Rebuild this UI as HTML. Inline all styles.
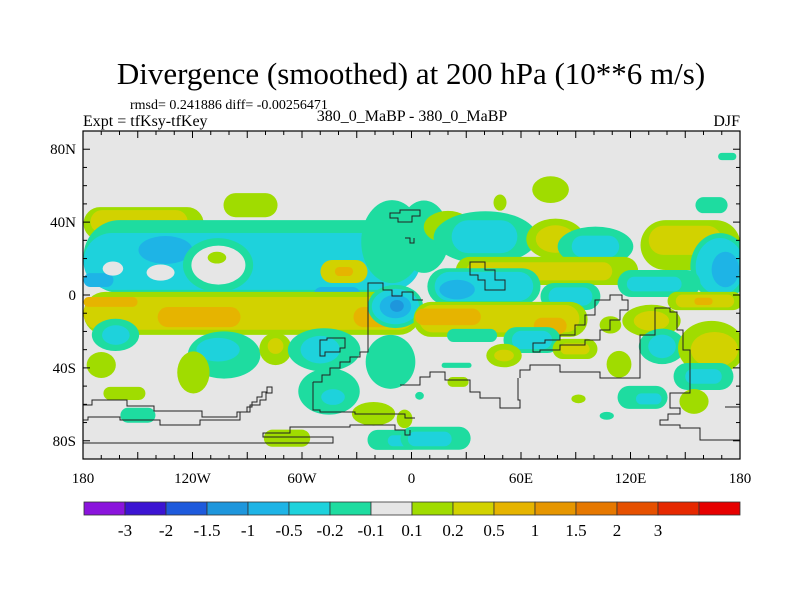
<!DOCTYPE html>
<html><head><meta charset="utf-8"><style>
body{margin:0;background:#fff;}
svg{display:block;font-family:"Liberation Serif",serif;}
</style></head><body>
<svg id="chart" width="800" height="600" viewBox="0 0 800 600">
<rect width="800" height="600" fill="#fff"/>
<text x="411" y="84" font-size="31" text-anchor="middle">Divergence (smoothed) at 200 hPa (10**6 m/s)</text>
<text x="130" y="109" font-size="14">rmsd= 0.241886 diff= -0.00256471</text>
<text x="83" y="126" font-size="16">Expt = tfKsy-tfKey</text>
<text x="412" y="121" font-size="16" text-anchor="middle">380_0_MaBP - 380_0_MaBP</text>
<text x="740" y="126" font-size="16" text-anchor="end">DJF</text>
<defs><clipPath id="pc"><rect x="83" y="131" width="657" height="328"/></clipPath></defs>
<rect x="83" y="131" width="657" height="328" fill="#e6e6e6"/>
<g id="field" clip-path="url(#pc)"></g>
<g clip-path="url(#pc)" fill="none" stroke="#222" stroke-width="1">
<path d="M83,405 H92 V400 H127 V406 H154 V411 H202 V417 H237 V412 H247 V407 H252 V402 H257 V397 H262 V392 H267 V387 H272 V393 H266 V400 H260 V405 H250 V412 H240 V420 H200 V425 H160 V420 H120 V417 H88 V420 H83"/>
<path d="M83,443 H333 V437 H263 V433 H290 V427 H350 V425 H395 V430 H405 V435 H410 V430"/>
<path d="M313,382 V410 H320 V412 H355 V414 H405 V418 H415"/>
<path d="M313,382 H322 V375 H330 V368 H340 V362 H350 V357 H360 V352 H368 V283 H383 V290 H392 V296 H402 V292 H413 V300 H423"/>
<path d="M320,340 H327 V338 H345 V348 H340 V352 H325 V356 H320 Z"/>
<path d="M390,213 V218 H398 V222 H412 V216 H420 V210 H400 V213 Z"/>
<path d="M405,238 H410 V243 H414 V238"/>
<path d="M470,262 V275 H478 V280 H485 V290 H505 V280 H495 V270 H485 V262 Z"/>
<path d="M533,343 H545 V340 H560 V335 H575 V325 H585 V315 H595 V300 H610 V295 H622 V300 H628 V310 H620 V320 H610 V330 H600 V340 H585 V345 H560 V350 H540 V352 H533 Z"/>
<path d="M520,378 V370 H530 V365 H560 V372 H600 V378 H640 V335 H655 V308 H670 V312 H677 V330 H683 V350 H690 V393 H670 V408 H680 V414 H668 V420 H660 V425 H680 V428 H700 V440 H740"/>
<path d="M400,385 H420 V377 H430 V372 H445 V380 H470 V392 H480 V398 H500 V408 H520 V400 H518 V378"/>
<path d="M725,407 H740"/>
</g>
<g id="axes"></g>
<rect x="83" y="131" width="657" height="328" fill="none" stroke="#000" stroke-width="1.2"/>
<g id="cbar"></g>
</svg>
<script>
const levelBounds = [-3,-2,-1.5,-1,-0.5,-0.2,-0.1,0.1,0.2,0.5,1,1.5,2,3];
const levelLabels = ["-3","-2","-1.5","-1","-0.5","-0.2","-0.1","0.1","0.2","0.5","1","1.5","2","3"];
const paletteColors = ["#8a14dc","#3c14d2","#1e5adc","#1e96dc","#1eb4e6","#1ed2dc","#1edca0","#e6e6e6","#a0dc00","#d2d200","#e6b400","#e69600","#e67800","#e65000","#e62800","#e60000"];
const lonTicks = [-180,-120,-60,0,60,120,180];
const lonTickLabels = ["180","120W","60W","0","60E","120E","180"];
const latTicks = [80,40,0,-40,-80];
const latTickLabels = ["80N","40N","0","40S","80S"];
// blobs: center lon, center lat, half-width (deg), half-height (deg), value
const blobLon = [-146.8,-149.3,-88.2,-87.4,-87.4,-134.8,-171.5,-40.8,-163.6,-137.5,-106,-105.8,-106.6,-10.7,6.8,-37,-37,
 -87.4,-88.8,-116.4,-164.9,-20.8,-8.8,-8.8,-8.8,-8,
 -162.2,-162,-102.7,-106,-74.5,-74.5,-47.9,-50,-119.5,-170,-11.5,-45.2,-43,-157.3,-149.9,-68.2,-20.8,-9.6,-5,
 76.2,48.5,164.4,20,40.5,40,78.9,78.9,100.8,100.8,152.9,150,169,169,172,74.2,70,39.7,39.7,25,87.1,87.1,135.6,133,160.8,160.8,160,
 48.8,48,20,76,131.5,131.5,109,33.2,66,66,137.3,137.3,164.4,166,50.7,50.7,89.6,89.6,113.7,160,160,126.6,130,154.8,24.7,25.5,13.2,10,-3.8,91.5,107,4.4,173];
const blobLat = [39.2,40.3,49.3,21.1,18.4,24.7,8.2,0,14.5,12.3,16.4,16.4,20.5,29.3,32,12.9,12.9,
 -10.1,-10.1,-12.1,-3.8,-12.1,-6.3,-6.3,-6.3,-6,
 -21.9,-22,-32.9,-30,-29.6,-28,-30.1,-30,-42.5,-38.4,-36.7,-52.9,-56,-54,-66,-78.6,-65.2,-79.5,-80,
 57.8,50.7,49.3,37.3,31.5,32,30.7,30.7,26.6,26.6,27.4,30,15.6,15.6,14,13.2,13,4.7,4.7,3,-0.8,-0.8,6.3,6,-3.3,-3.3,-3.5,
 -13.4,-13,-12,-17,-14.2,-14.2,-16.4,-22.2,-24.7,-24.7,-28.2,-28.2,-29,-30,-33.2,-33.2,-29.6,-29.6,-38,-44.7,-44.7,-56.2,-57,-58.4,-38.6,-47.7,-78.6,-79,-68,-57,-66.3,-55.3,76];
const blobRLon = [32.9,26.6,14.8,92.3,92.3,13.7,8.2,12.9,5.2,7.1,17.8,13.7,4.7,15.6,12.9,12.9,5,
 92.3,91,22.7,14.8,11,14,12,8,3.5,
 12,7,18.4,11,8.2,4,18.4,10,8.2,7.4,12.6,15.6,6,11.5,9.6,12.7,11,14.5,8,
 9.3,3.3,8.8,12.3,26.3,18,14.8,10,19.2,13,27.4,20,15,12.3,7,50,40,31,27,9,16.4,12,22.7,15,20.5,16,5,
 47.7,44,18,9,14.8,9,5.5,13.7,15.6,11,11.8,7,17,12,9,5,12.3,8,6.3,16.4,10,13.7,7,7.4,8.2,5.8,19.2,12,4,3.6,3.6,2.2,5];
const blobRLat = [9,6.3,6.6,20,15.6,7.1,3.8,4.4,3.6,4.1,13.7,9.9,3,21.1,18.4,6.3,2.5,
 11.8,9,5.5,2.7,5.5,11,9,6,3,
 8.2,5,12,6,8.2,4,11,7,10.7,6.6,13.7,11.8,4,3.6,4.1,4.7,6,5.5,3,
 6.8,4.1,4.4,8.2,13.4,9,10.4,7,10.1,6,13.7,8,17,14.5,9,7.7,5,10,8,5,7.4,5,7.4,4,5,3.5,2,
 9.6,7.5,4.5,4.5,8.2,5,4.4,3.6,7.1,5,9,6,13.7,9,6,3,5.5,3,6.8,7.4,4,6.3,3,6.3,1.4,2.7,6.3,4,4.7,2.2,2,2,2];
const blobValue = [0.15,0.3,0.15,-0.15,-0.3,-0.7,-0.7,-0.7,0,0,-0.15,0,0.15,-0.15,-0.15,0.3,0.7,
 0.15,0.3,0.7,0.7,0.7,-0.15,-0.3,-0.7,-1.2,
 -0.15,-0.3,-0.15,-0.3,0.15,0.3,-0.15,-0.3,0.15,0.15,-0.15,-0.15,-0.3,0.15,-0.15,0.15,0.15,-0.15,-0.3,
 0.15,0.15,-0.15,0.15,-0.15,-0.3,0.15,0.3,-0.15,-0.3,0.15,0.3,-0.15,-0.3,-0.7,0.15,0.3,-0.15,-0.3,-0.7,-0.15,-0.3,-0.15,-0.3,0.15,0.3,0.7,
 0.15,0.3,0.7,0.7,0.15,0.3,0.15,-0.15,-0.15,-0.3,-0.15,-0.3,0.15,0.3,0.15,0.3,0.15,0.3,0.15,-0.15,-0.3,-0.15,-0.3,0.15,-0.15,0.15,-0.15,-0.3,0.15,0.15,-0.15,-0.15,-0.15];

const NS='http://www.w3.org/2000/svg';
const X0=83,X1=740,Y0=131,Y1=459;
function xScale(lon){return X0+(lon+180)/360*(X1-X0);}
function yScale(lat){return Y0+(90-lat)/180*(Y1-Y0);}
function colorFor(v){let i=0;while(i<levelBounds.length&&v>levelBounds[i])i++;return paletteColors[i];}
function mk(tag,attrs,parent){const e=document.createElementNS(NS,tag);for(const k in attrs)e.setAttribute(k,attrs[k]);parent.appendChild(e);return e;}

const field=document.getElementById('field');
for(let i=0;i<blobLon.length;i++){
  const cx=xScale(blobLon[i]),cy=yScale(blobLat[i]);
  const w=blobRLon[i]*(X1-X0)/360,h=blobRLat[i]*(Y1-Y0)/180;
  let el;
  if(w<2*h){
    el=mk('ellipse',{cx:cx,cy:cy,rx:w*1.08,ry:h*1.08,fill:colorFor(blobValue[i])},field);
  } else {
    const r=Math.min(w,h);
    el=mk('rect',{x:cx-w,y:cy-h,width:2*w,height:2*h,rx:r,ry:r,fill:colorFor(blobValue[i])},field);
  }
  
  
}

const axes=document.getElementById('axes');
for(let lon=-180;lon<=180;lon+=10){
  const x=xScale(lon),len=(lon%30===0)?7:4;
  const t1=mk('line',{x1:x,y1:Y1,x2:x,y2:Y1-len,stroke:'#000','stroke-width':1},axes);
  
  
  const t2=mk('line',{x1:x,y1:Y0,x2:x,y2:Y0+len,stroke:'#000','stroke-width':1},axes);
  
  
}
for(let lat=-90;lat<=90;lat+=10){
  const y=yScale(lat),len=(lat%40===0)?7:4;
  const t1=mk('line',{x1:X0,y1:y,x2:X0+len,y2:y,stroke:'#000','stroke-width':1},axes);
  
  
  const t2=mk('line',{x1:X1,y1:y,x2:X1-len,y2:y,stroke:'#000','stroke-width':1},axes);
  
  
}
lonTicks.forEach((lon,i)=>{
  const t=mk('text',{x:xScale(lon),y:483,'font-size':15,'text-anchor':'middle'},axes);
  t.textContent=lonTickLabels[i];
  
  
});
latTicks.forEach((lat,i)=>{
  const t=mk('text',{x:76,y:yScale(lat)+5,'font-size':15,'text-anchor':'end'},axes);
  t.textContent=latTickLabels[i];
  
  
});

const cbar=document.getElementById('cbar');
const CB0=84,CB1=740,bw=(CB1-CB0)/paletteColors.length;
paletteColors.forEach((c,i)=>{
  const r=mk('rect',{x:CB0+i*bw,y:502,width:bw,height:13,fill:c,stroke:'#333','stroke-width':0.8},cbar);
  
  
});
levelLabels.forEach((l,i)=>{
  const t=mk('text',{x:CB0+(i+1)*bw,y:536,'font-size':17,'text-anchor':'middle'},cbar);
  t.textContent=l;
  
  
});
</script>
</body></html>
